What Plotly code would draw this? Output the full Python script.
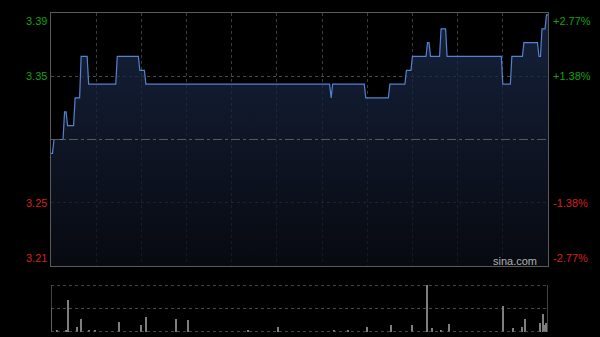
import plotly.graph_objects as go

# ---- data (minute index 0..330 of the trading day, lunch merged) ----
prev_close = 3.30
price_t = [0, 1, 2, 8, 9, 10, 11, 15, 16, 19, 20, 24, 25, 43, 44, 58, 59, 62, 63,
           185, 186, 187, 208, 209, 224, 225, 235, 236, 239, 240, 249, 250, 251, 252,
           258, 259, 262, 263, 299, 300, 305, 306, 313, 314, 323, 324, 325, 326, 328, 329, 330]
price_v = [3.29, 3.29, 3.30, 3.30, 3.32, 3.32, 3.31, 3.31, 3.33, 3.33, 3.36, 3.36, 3.34, 3.34, 3.36, 3.36, 3.35, 3.35, 3.34,
           3.34, 3.33, 3.34, 3.34, 3.33, 3.33, 3.34, 3.34, 3.35, 3.35, 3.36, 3.36, 3.37, 3.37, 3.36,
           3.36, 3.38, 3.38, 3.36, 3.36, 3.34, 3.34, 3.36, 3.36, 3.37, 3.37, 3.36, 3.36, 3.38, 3.38, 3.39, 3.39]

vol_t = [0, 4, 10, 11, 17, 20, 25, 29, 45, 60, 63, 83, 91, 131, 151, 188, 197, 210, 226, 240,
         250, 253, 259, 264, 300, 307, 313, 315, 325, 327, 328, 329]
vol_v = [50, 3.6, 5, 68, 10.6, 27.7, 3, 4, 21, 15, 31, 27.7, 25.5, 4, 9.6, 4, 4, 9.6, 15, 14,
         100, 7.5, 3, 16.4, 54.7, 7.5, 9.6, 28.3, 19, 39, 15, 19]

left_labels = ["3.39", "3.35", "3.25", "3.21"]
right_labels = ["+2.77%", "+1.38%", "-1.38%", "-2.77%"]
pct = 0.0277
pct_mid = 0.01385

ymax = prev_close * (1 + pct)
ymin = prev_close * (1 - pct)
ymid_hi = prev_close * (1 + pct_mid)
ymid_lo = prev_close * (1 - pct_mid)

fig = go.Figure()

fig.add_trace(go.Scatter(
    x=price_t, y=price_v, mode="lines",
    line=dict(color="#5283d0", width=1.2),
    fill="tozeroy",
    fillgradient=dict(type="vertical", start=ymin, stop=ymax,
                      colorscale=[[0, "rgba(10,13,22,0.75)"], [1, "rgba(28,44,78,0.75)"]]),
    xaxis="x", yaxis="y", hoverinfo="skip", showlegend=False))

fig.add_trace(go.Bar(
    x=vol_t, y=vol_v, width=0.7, marker=dict(color="#7e7e7e", line=dict(width=0)),
    xaxis="x2", yaxis="y2", hoverinfo="skip", showlegend=False))

grid = "#3c3c3c"
fig.update_layout(
    width=600, height=337,
    margin=dict(l=51, r=52, t=13, b=5),
    paper_bgcolor="#000000", plot_bgcolor="#000000",
    font=dict(family="Liberation Sans, Arial, sans-serif", size=11),
    xaxis=dict(domain=[0, 1], range=[0, 330], tick0=0, dtick=30, showgrid=True,
               gridcolor=grid, griddash="dot", gridwidth=1, showticklabels=False,
               zeroline=False, showline=True, mirror=True, linecolor="#5a5a5a", linewidth=1,
               ticks=""),
    yaxis=dict(domain=[0.207, 1], range=[ymin, ymax], tickvals=[ymid_lo, ymid_hi],
               showgrid=True, gridcolor="#4a4a4a", griddash="dot", showticklabels=False,
               zeroline=False, showline=True, mirror=True, linecolor="#5a5a5a", linewidth=1),
    xaxis2=dict(domain=[0, 1], range=[0, 330], showgrid=False, showticklabels=False,
                zeroline=False, anchor="y2"),
    yaxis2=dict(domain=[0, 0.147], range=[0, 100], tickvals=[50], showgrid=True,
                gridcolor="#4a4a4a", griddash="dot", showticklabels=False, zeroline=False,
                anchor="x2"),
    bargap=0,
)

# previous close dash-dot line
fig.add_shape(type="line", xref="x", yref="y", x0=0, x1=330, y0=prev_close, y1=prev_close,
              line=dict(color="#5a5a5a", width=1, dash="dashdot"))
# volume panel frame
for yv in (0, 100):
    fig.add_shape(type="line", xref="x2", yref="y2", x0=0, x1=330, y0=yv, y1=yv,
                  line=dict(color="#5a5a5a", width=1.5, dash="dot"))
for xv in (0, 330):
    fig.add_shape(type="line", xref="x2", yref="y2", x0=xv, x1=xv, y0=0, y1=100,
                  line=dict(color="#5a5a5a", width=1.5))

green = "#12a012"
red = "#d42020"
ys = [ymax, ymid_hi, ymid_lo, ymin]
anchors = ["top", "middle", "middle", "bottom"]
colors = [green, green, red, red]
for lab, rlab, yv, an, c in zip(left_labels, right_labels, ys, anchors, colors):
    fig.add_annotation(x=0, xref="paper", y=yv, yref="y", text=lab, showarrow=False,
                       xanchor="right", yanchor=an, xshift=-2, font=dict(color=c, size=11))
    fig.add_annotation(x=1, xref="paper", y=yv, yref="y", text=rlab, showarrow=False,
                       xanchor="left", yanchor=an, xshift=3, font=dict(color=c, size=11))

fig.add_annotation(x=0.98, xref="paper", y=ymin, yref="y", text="sina.com", showarrow=False,
                   xanchor="right", yanchor="bottom", yshift=-3, xshift=1,
                   font=dict(color="#b0b0b0", size=11))

fig.write_html("out.html")
